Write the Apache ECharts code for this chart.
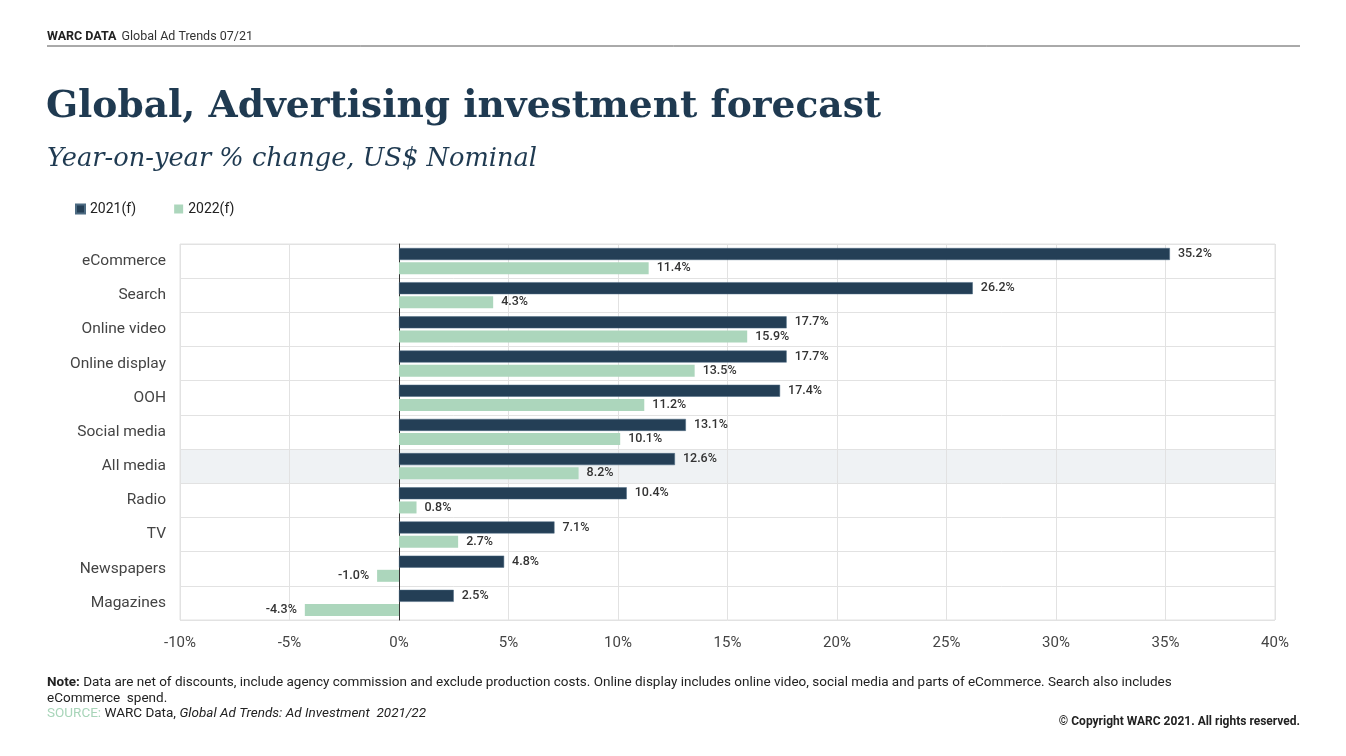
<!DOCTYPE html>
<html>
<head>
<meta charset="utf-8">
<style>
  html, body { margin: 0; padding: 0; background: #fff; }
  #chart { width: 1346px; height: 756px; }
</style>
<script src="https://cdn.jsdelivr.net/npm/echarts@6/dist/echarts.min.js"></script>
</head>
<body>
<div id="chart"></div>
<script>
// categories, top to bottom
var media = ['eCommerce', 'Search', 'Online video', 'Online display', 'OOH', 'Social media',
             'All media', 'Radio', 'TV', 'Newspapers', 'Magazines'];
var f2021 = [35.2, 26.2, 17.7, 17.7, 17.4, 13.1, 12.6, 10.4, 7.1, 4.8, 2.5];
var f2022 = [11.4, 4.3, 15.9, 13.5, 11.2, 10.1, 8.2, 0.8, 2.7, -1.0, -4.3];
var seriesNames = ['2021(f)', '2022(f)'];
var xTicks = { min: -10, max: 40, step: 5 };
var highlighted = 'All media';

var navy = '#243f56';
var mint = '#acd6bc';
var font = 'Roboto, "Liberation Sans", sans-serif';
var serif = '"DejaVu Serif", "Liberation Serif", serif';

function toItems(arr) {
    return arr.map(function (v) {
        return { value: v, label: { position: v < 0 ? 'left' : 'right' } };
    });
}

// grey band behind the "All media" row
var bandColors = media.map(function (m) {
    return m === highlighted ? '#eff2f4' : 'rgba(255,255,255,0)';
});

var chart = echarts.init(document.getElementById('chart'));

var barLabel = {
    show: true,
    distance: 8,
    color: '#333',
    fontSize: 12.5,
    fontWeight: 500,
    fontFamily: font,
    formatter: function (p) { return p.value.toFixed(1) + '%'; }
};

var option = {
    backgroundColor: '#fff',
    animation: false,
    title: [
        {
            text: '{b|WARC DATA} {r|Global Ad Trends 07/21}',
            left: 47, top: 28, padding: 0,
            textStyle: {
                fontWeight: 'normal',
                rich: {
                    b: { fontFamily: font, fontWeight: 'bold', fontSize: 12.5, color: '#222' },
                    r: { fontFamily: font, fontWeight: 'normal', fontSize: 12.5, color: '#333' }
                }
            }
        },
        {
            text: 'Global, Advertising investment forecast',
            left: 46, top: 88, padding: 0,
            textStyle: { fontFamily: serif, fontWeight: 'bold', fontSize: 37.6, color: '#1f3a51' }
        },
        {
            text: 'Year-on-year % change, US$ Nominal',
            left: 47, top: 146, padding: 0,
            textStyle: { fontFamily: serif, fontStyle: 'italic', fontWeight: 'normal', fontSize: 25.7, color: '#1f3a51' }
        }
    ],
    graphic: [
        { type: 'line', shape: { x1: 47, y1: 46, x2: 1300, y2: 46 }, style: { stroke: '#555', lineWidth: 1 } },
        {
            type: 'text', left: 47, top: 675,
            style: {
                text: '{b|Note:} Data are net of discounts, include agency commission and exclude production costs. Online display includes online video, social media and parts of eCommerce. Search also includes\neCommerce  spend.',
                font: '13.5px ' + font, fill: '#222', lineHeight: 16,
                rich: { b: { fontWeight: 'bold', fontSize: 13.5, fontFamily: font, fill: '#222' } }
            }
        },
        {
            type: 'text', left: 47, top: 707,
            style: {
                text: '{s|SOURCE:} WARC Data, {i|Global Ad Trends: Ad Investment  2021/22}',
                font: '13.5px ' + font, fill: '#222',
                rich: {
                    s: { fill: '#a8d5b9', fontSize: 13.5, fontFamily: font },
                    i: { fontStyle: 'italic', fontSize: 13.5, fontFamily: font, fill: '#222' }
                }
            }
        },
        {
            type: 'text', right: 46, top: 716,
            style: { text: '© Copyright WARC 2021. All rights reserved.', font: 'bold 12px ' + font, fill: '#222' }
        }
    ],
    legend: {
        left: 70, top: 197,
        itemWidth: 9, itemHeight: 9, itemGap: 38,
        icon: 'rect',
        textStyle: { fontFamily: font, fontSize: 14, color: '#222' },
        data: seriesNames
    },
    grid: {
        left: 180, right: 71, top: 244, bottom: 136,
        show: true, borderColor: '#e2e2e2', borderWidth: 1
    },
    xAxis: {
        type: 'value',
        min: xTicks.min, max: xTicks.max, interval: xTicks.step,
        axisLine: { show: false },
        axisTick: { show: false },
        axisLabel: {
            formatter: '{value}%', margin: 16,
            fontFamily: font, fontSize: 15, color: '#444'
        },
        splitLine: { lineStyle: { color: '#e2e2e2', width: 1 } }
    },
    yAxis: {
        type: 'category',
        inverse: true,
        data: media,
        axisLine: { onZero: true, lineStyle: { color: '#333', width: 1 } },
        axisTick: { show: false },
        axisLabel: { fontFamily: font, fontSize: 15.5, color: '#444', margin: 14 },
        position: 'left',
        splitLine: { show: true, lineStyle: { color: '#e2e2e2', width: 1 } },
        splitArea: { show: true, areaStyle: { color: bandColors } }
    },
    series: [
        {
            name: seriesNames[0], type: 'bar',
            data: toItems(f2021),
            barWidth: 12, barGap: '18%',
            itemStyle: { color: navy, borderColor: '#4d6b82', borderWidth: 0.5 },
            label: barLabel
        },
        {
            name: seriesNames[1], type: 'bar',
            data: toItems(f2022),
            barWidth: 12, barGap: '18%',
            itemStyle: { color: mint },
            label: barLabel
        }
    ]
};

chart.setOption(option);
</script>
</body>
</html>
